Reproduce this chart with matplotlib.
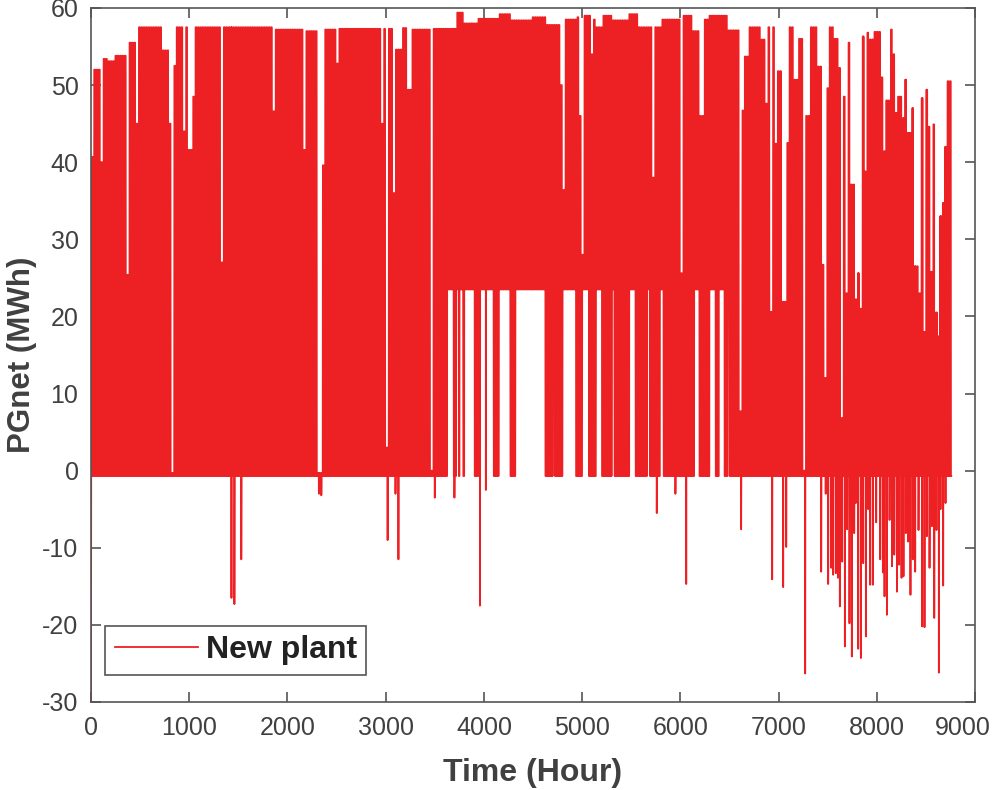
import numpy as np
import matplotlib
matplotlib.use("Agg")
from matplotlib import pyplot as plt
from matplotlib import transforms

# daily peak envelope: from env_hours[i] on, the daytime peak is env_peaks[i]
env_hours = [0, 30, 100, 115, 173, 235, 245, 365, 390, 460, 485, 730, 785, 810, 818, 845,
             870, 940, 964, 988, 1022, 1060, 1325, 1345, 1850, 1870, 2162, 2185, 2305, 2355,
             2366, 2490, 2510, 2963, 2980, 3010, 3024, 3065, 3092, 3160, 3208, 3255, 3455,
             3472, 3590, 3608, 3717, 3795, 3937, 3947, 4150, 4270, 4490, 4623, 4766, 4800,
             4820, 4940, 4975, 4990, 5005, 5085, 5105, 5120, 5140, 5200, 5300, 5480, 5560,
             5722, 5745, 5820, 6000, 6025, 6110, 6195, 6229, 6300, 6449, 6466, 6483, 6602,
             6636, 6660, 6687, 6823, 6857, 6891, 6920, 6942, 6959, 6993, 7027, 7044, 7071,
             7112, 7146, 7197, 7254, 7281, 7315, 7400, 7450, 7471, 7495, 7515, 7556, 7607,
             7631, 7665, 7692, 7709, 7733, 7777, 7794, 7821, 7855, 7879, 7906, 7930, 7957,
             7971, 8032, 8072, 8099, 8126, 8150, 8184, 8208, 8252, 8286, 8310, 8354, 8388,
             8422, 8456, 8473, 8500, 8524, 8541, 8575, 8592, 8616, 8643, 8660, 8684, 8711]
env_peaks = [40.7, 52.0, 40.0, 53.4, 53.1, 33.0, 53.8, 25.4, 55.5, 45.0, 57.5, 54.5, 45.0, 40.0, -0.3, 52.5,
             57.5, 44.0, 57.5, 41.6, 48.5, 57.5, 27.0, 57.5, 46.6, 57.2, 41.6, 57.0, -0.3, 39.6,
             57.2, 52.8, 57.3, 45.0, 57.3, 3.0, 57.3, 36.0, 54.6, 57.4, 49.4, 57.2, 0.0,
             57.3, 55.0, 57.3, 59.4, 58.0, 20.4, 58.6, 59.2, 58.4, 58.8, 57.8, 50.0, 36.4,
             58.5, 58.8, 46.0, 28.0, 59.0, 54.0, 0.0, 58.5, 57.5, 59.0, 58.4, 59.2, 57.5,
             38.0, 57.5, 58.5, 25.6, 59.0, 57.0, 46.0, 58.5, 59.0, 51.0, 59.0, 57.1, 7.7,
             46.7, 53.7, 57.5, 55.9, 47.6, 57.5, 20.6, 57.5, 42.4, 51.8, 57.5, 21.9, 42.5,
             57.5, 50.7, 56.0, 0.0, 46.0, 57.5, 52.4, 26.7, 12.0, 49.6, 57.5, 56.0, 52.2,
             6.8, 48.5, 23.0, 55.5, 37.1, 22.2, 25.6, 21.0, 56.3, 38.8, 56.8, 55.9, 52.4,
             56.9, 51.0, 41.4, 48.0, 57.2, 54.0, 46.4, 48.5, 45.7, 50.7, 43.8, 47.0, 26.5,
             23.0, 48.3, 18.0, 49.4, 44.6, 25.8, 44.9, 20.5, 17.4, 33.0, 34.7, 42.0, 50.5]

# hour ranges where the night-time level stays at the 23.5 MWh plateau
plateau_start = [3625, 3717, 3760, 3800, 3950, 4150, 4320, 4700, 4800, 4834, 5000, 5140,
                 5300, 5480, 5660, 5800, 6140, 6300, 6400, 6480]
plateau_end = [3693, 3745, 3790, 3900, 4100, 4270, 4620, 4720, 4834, 4936, 5070, 5200,
               5330, 5545, 5690, 5830, 6195, 6360, 6440, 6500]
plateau_level = 23.5
night_level = -0.7

# negative spikes
neg_hours = [0, 1430, 1460, 1530, 2320, 2345, 3020, 3100, 3130, 3500, 3700, 3960, 4020,
             5760, 5950, 6060, 6619, 6935, 7047, 7078, 7271, 7434, 7480, 7505, 7536, 7556,
             7583, 7604, 7624, 7648, 7675, 7698, 7722, 7746, 7770, 7787, 7811, 7838, 7862,
             7889, 7913, 7933, 7960, 7994, 8035, 8062, 8079, 8103, 8130, 8155, 8178, 8205,
             8228, 8252, 8272, 8296, 8320, 8343, 8367, 8391, 8425, 8462, 8486, 8510, 8537,
             8561, 8585, 8608, 8632, 8649, 8676, 8700]
neg_vals = [-30.0, -16.5, -17.3, -11.5, -3.0, -3.2, -9.0, -3.0, -11.5, -3.5, -3.5, -17.5, -2.5,
            -5.5, -3.0, -14.7, -7.6, -14.1, -15.1, -9.9, -26.3, -13.1, -3.0, -14.7, -12.6, -13.5,
            -13.3, -13.9, -17.6, -11.8, -22.8, -7.6, -19.8, -24.1, -8.1, -4.2, -23.1, -24.3, -12.0,
            -21.5, -5.0, -14.8, -14.8, -6.7, -11.5, -13.2, -16.3, -18.7, -6.4, -12.4, -10.9, -15.7,
            -12.2, -13.9, -13.7, -8.1, -9.2, -16.1, -11.5, -13.1, -7.7, -20.2, -20.3, -8.5, -12.6,
            -7.2, -19.1, -7.7, -26.2, -5.0, -14.9, -4.2]

n_hours = 8760
hours = np.arange(n_hours)

# build hourly series: daytime hours take the day's peak, night hours the trough
day_mid = (hours // 24) * 24 + 12
peak = np.array(env_peaks)[np.searchsorted(env_hours, day_mid, side="right") - 1]
trough = np.full(n_hours, night_level)
for s, e in zip(plateau_start, plateau_end):
    trough[(hours >= s) & (hours < e)] = plateau_level
hod = hours % 24
pgnet = np.where((hod >= 8) & (hod <= 17), peak, trough)
for h, v in zip(neg_hours, neg_vals):
    pgnet[h] = v

plt.rcParams["font.family"] = ["Liberation Sans", "DejaVu Sans"]
plt.rcParams["axes.unicode_minus"] = False
fig = plt.figure(figsize=(10, 7.9), dpi=100)
ax = fig.add_axes([0.091, 0.1114, 0.884, 0.8785])

ax.plot(hours, pgnet, color="#ED2024", lw=1.3, label="New plant")

ax.set_xlim(0, 9000)
ax.set_ylim(-30, 60)
ax.set_xticks(np.arange(0, 9001, 1000))
ax.set_yticks(np.arange(-30, 61, 10))

grey = "#404040"
for sp in ax.spines.values():
    sp.set_color("#555555")
    sp.set_linewidth(1.2)
ax.tick_params(direction="in", length=7, width=1.2, color="#555555",
               labelsize=18, labelcolor=grey, top=True, right=True)
ax.tick_params(axis="x", pad=10)
ax.tick_params(axis="y", pad=9)
ax.set_xlabel("Time (Hour)", fontsize=23, fontweight="bold", color=grey, labelpad=13)
ax.set_ylabel("PGnet (MWh)", fontsize=22.5, fontweight="bold", color=grey, labelpad=4)

# keep the last x label inside the figure
fig.canvas.draw()
last = ax.get_xticklabels()[-1]
last.set_transform(last.get_transform() + transforms.ScaledTranslation(-12 / 100, 0, fig.dpi_scale_trans))

leg = ax.legend(loc="lower left", bbox_to_anchor=(0.0158, 0.039), borderaxespad=0,
                prop={"size": 23, "weight": "bold"}, handlelength=2.6, handletextpad=0.25,
                borderpad=0.3, fancybox=False, framealpha=1)
leg.get_frame().set_edgecolor("#555555")
leg.get_frame().set_linewidth(1.2)
for t in leg.get_texts():
    t.set_color("#222222")

plt.savefig("out.png", dpi=100)
